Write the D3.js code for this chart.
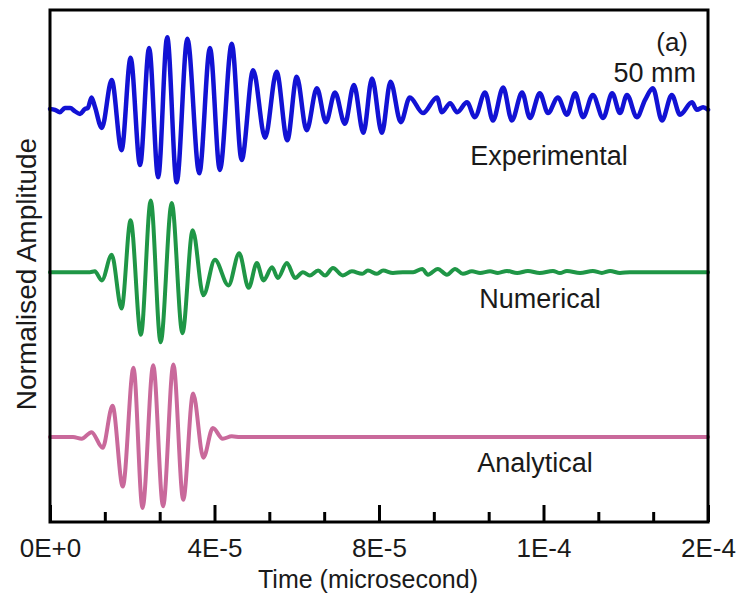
<!DOCTYPE html>
<html>
<head>
<meta charset="utf-8">
<script src="https://cdn.jsdelivr.net/npm/d3@7"></script>
<style>
  html, body { margin: 0; padding: 0; background: #fff; }
  text { font-family: "Liberation Sans", Arial, sans-serif; fill: #1a1a1a; }
</style>
</head>
<body>
<svg id="chart" width="744" height="610"></svg>
<script>
// ---- data (time in units of 1E-5 s, amplitude normalised) ----
const xTickValues = [0, 4, 8, 12, 16];
const xTickLabels = ["0E+0", "4E-5", "8E-5", "1E-4", "2E-4"];
const xMinorTicks = [1.333, 2.667, 5.333, 6.667, 9.333, 10.667, 13.333, 14.667];

const seriesNames = ["Experimental", "Numerical", "Analytical"];
const seriesOffsets = [3.99, 2, 0];

const experimental = [
  [0,-0.01],[0.12,-0.02],[0.24,-0.05],[0.36,0],[0.49,0],[0.61,-0.04],[0.73,-0.07],[0.85,-0.01],[0.92,0],
  [1.01,0.13],[1.09,0.02],[1.26,-0.24],[1.50,0.34],[1.74,-0.51],[1.96,0.61],[2.19,-0.69],[2.41,0.73],
  [2.63,-0.84],[2.85,0.86],[3.08,-0.90],[3.34,0.84],[3.63,-0.79],[3.89,0.73],[4.13,-0.75],[4.42,0.78],
  [4.66,-0.63],[4.94,0.46],[5.23,-0.36],[5.51,0.44],[5.77,-0.39],[6.00,0.38],[6.24,-0.27],[6.49,0.24],
  [6.71,-0.17],[6.93,0.19],[7.17,-0.19],[7.39,0.28],[7.62,-0.30],[7.83,0.36],[8.07,-0.30],[8.28,0.32],
  [8.53,-0.17],[8.75,0.13],[9.07,-0.06],[9.41,0.13],[9.53,-0.05],[9.73,0.06],[9.90,-0.05],[10.14,0.07],
  [10.33,-0.11],[10.58,0.19],[10.77,-0.15],[11.02,0.25],[11.23,-0.15],[11.48,0.19],[11.67,-0.12],
  [11.91,0.18],[12.11,-0.06],[12.35,0.13],[12.57,-0.08],[12.77,0.18],[12.96,-0.11],[13.20,0.16],
  [13.45,-0.12],[13.67,0.18],[13.86,-0.06],[14.03,0.16],[14.27,-0.11],[14.47,0.10],[14.66,0.24],
  [14.88,-0.15],[15.12,0.16],[15.32,-0.08],[15.61,0.07],[15.73,-0.02],[15.88,0.01],[16.00,-0.02]
];

const numerical = [
  [0,0],[0.97,0],[1.09,0.01],[1.26,-0.10],[1.50,0.21],[1.74,-0.44],[1.96,0.63],[2.21,-0.76],[2.45,0.87],
  [2.69,-0.85],[2.96,0.84],[3.22,-0.74],[3.47,0.51],[3.73,-0.28],[4.01,0.15],[4.34,-0.16],[4.60,0.23],
  [4.83,-0.19],[5.03,0.11],[5.19,-0.10],[5.40,0.06],[5.54,-0.07],[5.76,0.11],[5.96,-0.07],[6.15,0],
  [6.32,-0.04],[6.52,0.02],[6.69,-0.04],[6.88,0.05],[7.12,-0.04],[7.34,0.01],[7.59,-0.02],[7.73,0.02],
  [7.95,-0.02],[8.10,0.02],[8.34,-0.01],[8.58,0],[8.83,0],[9.05,0.04],[9.19,-0.03],[9.43,0.04],
  [9.65,-0.03],[9.85,0.04],[10.04,-0.02],[10.26,0.01],[10.46,-0.01],[10.70,0.01],[10.89,-0.01],
  [11.11,0.015],[11.36,-0.01],[11.62,0.015],[11.91,-0.01],[12.23,0.015],[12.40,-0.01],[12.57,0.015],
  [12.89,-0.01],[13.20,0.015],[13.42,-0.01],[13.62,0.015],[13.86,-0.01],[14.10,0],[16.00,0]
];

const analytical = [
  [0,0],[0.56,0],[0.77,-0.02],[1.01,0.06],[1.28,-0.13],[1.52,0.38],[1.77,-0.60],[2.03,0.84],[2.25,-0.86],
  [2.51,0.87],[2.75,-0.84],[3.00,0.88],[3.24,-0.76],[3.48,0.53],[3.73,-0.25],[3.96,0.11],[4.20,-0.02],
  [4.42,0.01],[4.62,0],[16.00,0]
];

const seriesData = [experimental, numerical, analytical];
const seriesColors = ["#1212d4", "#1f9646", "#c9699b"];
const seriesWidths = [4.5, 4, 4];

// ---- layout ----
const svg = d3.select("#chart");
const plot = { left: 50, right: 708, top: 10, bottom: 522 };

const x = d3.scaleLinear().domain([0, 16]).range([plot.left, plot.right]);
const y = d3.scaleLinear().domain([-1.03, 5.18]).range([plot.bottom, plot.top]);

// series lines
const line = d3.line().curve(d3.curveMonotoneX);
seriesData.forEach((data, i) => {
  line.x(d => x(d[0])).y(d => y(d[1] + seriesOffsets[i]));
  svg.append("path")
    .datum(data)
    .attr("fill", "none")
    .attr("stroke", seriesColors[i])
    .attr("stroke-width", seriesWidths[i])
    .attr("stroke-linejoin", "round")
    .attr("stroke-linecap", "round")
    .attr("d", line);
});

// minor ticks
const minorAxis = d3.axisBottom(x).tickValues(xMinorTicks).tickSize(-10).tickFormat("");
svg.append("g").attr("transform", `translate(0,${plot.bottom})`).call(minorAxis)
  .call(g => g.select(".domain").remove())
  .call(g => g.selectAll("line").attr("stroke", "#000").attr("stroke-width", 3));

// major ticks
const majorAxis = d3.axisBottom(x).tickValues(xTickValues).tickSize(-17).tickPadding(17)
  .tickFormat((d, i) => xTickLabels[i]);
svg.append("g").attr("transform", `translate(0,${plot.bottom})`).call(majorAxis)
  .call(g => g.select(".domain").remove())
  .call(g => g.selectAll("line").attr("stroke", "#000").attr("stroke-width", 3))
  .call(g => g.selectAll("text").attr("font-size", 26).attr("fill", "#1a1a1a")
    .attr("font-family", "Liberation Sans, Arial, sans-serif"));

// frame
svg.append("rect")
  .attr("x", plot.left).attr("y", plot.top)
  .attr("width", plot.right - plot.left).attr("height", plot.bottom - plot.top)
  .attr("fill", "none").attr("stroke", "#000").attr("stroke-width", 3);

// axis titles
svg.append("text").attr("x", 368).attr("y", 588)
  .attr("text-anchor", "middle").attr("font-size", 25).text("Time (microsecond)");
svg.append("text").attr("transform", "translate(36,274) rotate(-90)")
  .attr("text-anchor", "middle").attr("font-size", 28).text("Normalised Amplitude");

// annotations
svg.append("text").attr("x", 688).attr("y", 51).attr("text-anchor", "end").attr("font-size", 26).text("(a)");
svg.append("text").attr("x", 696).attr("y", 82).attr("text-anchor", "end").attr("font-size", 27).text("50 mm");
svg.append("text").attr("x", 549).attr("y", 165).attr("text-anchor", "middle").attr("font-size", 27).text(seriesNames[0]);
svg.append("text").attr("x", 540).attr("y", 308).attr("text-anchor", "middle").attr("font-size", 27).text(seriesNames[1]);
svg.append("text").attr("x", 535).attr("y", 472).attr("text-anchor", "middle").attr("font-size", 27).text(seriesNames[2]);
</script>
</body>
</html>
